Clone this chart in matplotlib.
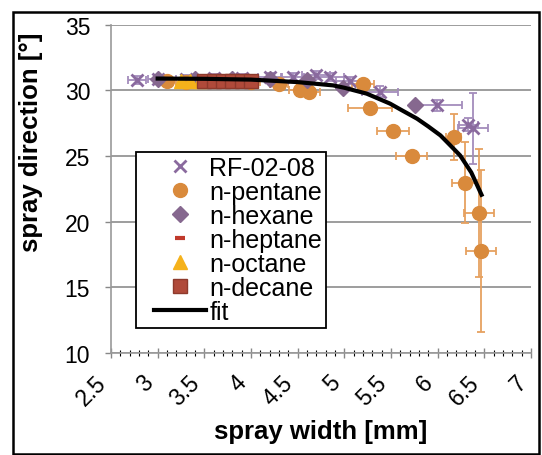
import matplotlib
matplotlib.use('agg')
import matplotlib.pyplot as plt
import matplotlib.transforms as mtransforms
from matplotlib.patches import Rectangle
from matplotlib.lines import Line2D
from matplotlib.legend_handler import HandlerLine2D
from matplotlib.ticker import MultipleLocator

plt.rcParams['font.family'] = ['Liberation Sans', 'DejaVu Sans']

# RF-02-08 (crosses)
rf_x = [2.78, 3.0, 3.3, 3.6, 3.9, 4.2, 4.45, 4.7, 4.85, 5.06, 5.38, 5.99, 6.38, 6.33]
rf_y = [30.8, 30.9, 30.9, 30.95, 30.95, 31.0, 31.0, 31.15, 31.05, 30.75, 29.9, 28.85, 27.1, 27.4]
rf_xerr = [0.1, 0.1, 0.1, 0.1, 0.1, 0.12, 0.12, 0.15, 0.15, 0.15, 0.19, 0.27, 0.16, 0.1]
rf_yerr = [0.3, 0.3, 0.3, 0.3, 0.3, 0.3, 0.3, 0.3, 0.3, 0.3, 0.4, 0.4, 2.7, 0.5]

# n-pentane (circles)
pen_x = [3.1, 3.3, 3.6, 4.0, 4.3, 4.53, 4.62, 5.2, 5.275, 5.525, 5.72, 6.17, 6.29, 6.446, 6.46]
pen_y = [30.7, 30.6, 30.7, 30.6, 30.5, 30.0, 29.9, 30.5, 28.66, 26.9, 25.0, 26.45, 22.97, 20.65, 17.75]
pen_xerr = [0.1, 0.1, 0.1, 0.1, 0.1, 0.12, 0.12, 0.12, 0.24, 0.17, 0.17, 0.08, 0.14, 0.16, 0.16]
pen_yerr = [0.3, 0.3, 0.3, 0.3, 0.3, 0.4, 0.4, 0.4, 0.4, 0.4, 0.4, 1.75, 3.1, 4.9, 6.15]

# n-hexane (diamonds)
hex_x = [3.0, 3.4, 3.8, 4.2, 4.6, 4.99, 5.76]
hex_y = [30.85, 30.9, 30.9, 30.85, 30.8, 30.2, 28.86]

# n-heptane (dashes)
hep_x = [3.5, 3.7, 3.9]
hep_y = [30.85, 30.8, 30.8]

# n-octane (triangles)
oct_x = [3.25, 3.35, 3.45]
oct_y = [30.7, 30.75, 30.7]

# n-decane (squares)
dec_x = [3.5, 3.6, 3.7, 3.8, 3.9, 4.0]
dec_y = [30.7, 30.75, 30.7, 30.75, 30.7, 30.75]

# fit curve
fit_x = [3.0, 3.5, 4.0, 4.5, 4.88, 5.0, 5.24, 5.49, 5.6, 5.78, 5.9, 6.03, 6.13, 6.24, 6.36, 6.47]
fit_y = [30.9, 30.88, 30.82, 30.63, 30.38, 30.2, 29.75, 28.99, 28.55, 27.84, 27.25, 26.57, 25.85, 25.05, 23.75, 22.05]

xticks = [2.5, 3, 3.5, 4, 4.5, 5, 5.5, 6, 6.5, 7]
xticklabels = ['2.5', '3', '3.5', '4', '4.5', '5', '5.5', '6', '6.5', '7']
yticks = [10, 15, 20, 25, 30, 35]

c_rf = '#8a6a9e'
c_rf_err = '#a48cbc'
c_pen = '#d98a3c'
c_pen_err = '#e6a160'
c_hex = '#86688f'
c_hep = '#c0392b'
c_oct = '#f5b21b'
c_dec = '#b04a3a'

fig = plt.figure(figsize=(5.42, 4.56), dpi=100)
ax = fig.add_axes([0.2048, 0.2237, 0.7749, 0.7199])

ax.errorbar(rf_x, rf_y, xerr=rf_xerr, yerr=rf_yerr, fmt='none', ecolor=c_rf_err,
            elinewidth=1.3, capsize=3, capthick=1.3, zorder=3)
ax.errorbar(pen_x, pen_y, xerr=pen_xerr, yerr=pen_yerr, fmt='none', ecolor=c_pen_err,
            elinewidth=1.3, capsize=3, capthick=1.3, zorder=3)

ax.plot(rf_x, rf_y, 'x', color=c_rf, ms=9, mew=2, label='RF-02-08', zorder=4)
ax.plot(pen_x, pen_y, 'o', color=c_pen, ms=10, label='n-pentane', zorder=4)
ax.plot(hex_x, hex_y, 'D', color=c_hex, ms=8, label='n-hexane', zorder=4)
ax.plot(hep_x, hep_y, '_', color=c_hep, ms=7, mew=3, label='n-heptane', zorder=5)
ax.plot(oct_x, oct_y, '^', color=c_oct, ms=10, label='n-octane', zorder=5)
ax.plot(dec_x, dec_y, 's', color=c_dec, mec='#8e3a2c', ms=10, label='n-decane', zorder=5)
ax.plot(fit_x, fit_y, '-', color='black', lw=3, label='fit', zorder=6)

ax.set_xlim(2.5, 7)
ax.set_ylim(10, 35)
ax.set_xticks(xticks)
ax.set_xticklabels(xticklabels, rotation=45, ha='right')
shift = mtransforms.ScaledTranslation(6 / 100, 0, fig.dpi_scale_trans)
for lab in ax.get_xticklabels():
    lab.set_transform(lab.get_transform() + shift)
ax.set_yticks(yticks)
ax.xaxis.set_minor_locator(MultipleLocator(0.1))
ax.tick_params(axis='both', labelsize=16.5, colors='#888888', labelcolor='black')
ax.tick_params(axis='x', which='major', direction='inout', length=7, width=1, pad=9)
ax.tick_params(axis='x', which='minor', direction='inout', length=4, width=0.8)
ax.tick_params(axis='y', which='major', direction='out', length=4, width=1, pad=11)
ax.grid(axis='y', color='#8c8c8c', lw=1.2)
ax.set_axisbelow(True)
for s in ['top', 'right']:
    ax.spines[s].set_visible(False)
for s in ['left', 'bottom']:
    ax.spines[s].set_color('#999999')
    ax.spines[s].set_linewidth(1.2)

ax.set_xlabel('spray width [mm]', fontsize=18.5, fontweight='bold')
ax.set_ylabel('spray direction [°]', fontsize=18.5, fontweight='bold')
ax.xaxis.set_label_coords(0.5, -0.2)
ax.yaxis.set_label_coords(-0.162, 0.645)

leg = ax.legend(loc='upper left', bbox_to_anchor=(0.06, 0.612), borderaxespad=0,
                fontsize=18, labelspacing=0.0, handlelength=2.65, handletextpad=0.12,
                borderpad=0.15, fancybox=False, framealpha=1, edgecolor='black',
                handler_map={Line2D: HandlerLine2D(xpad=0.55)})
leg.get_frame().set_linewidth(1.3)

fig.patches.append(Rectangle((13 / 542, 0.002), 526 / 542, 1 - 13 / 456 - 0.002,
                             transform=fig.transFigure, fill=False, edgecolor='black', lw=1.8))

plt.savefig('out.png', dpi=100)
